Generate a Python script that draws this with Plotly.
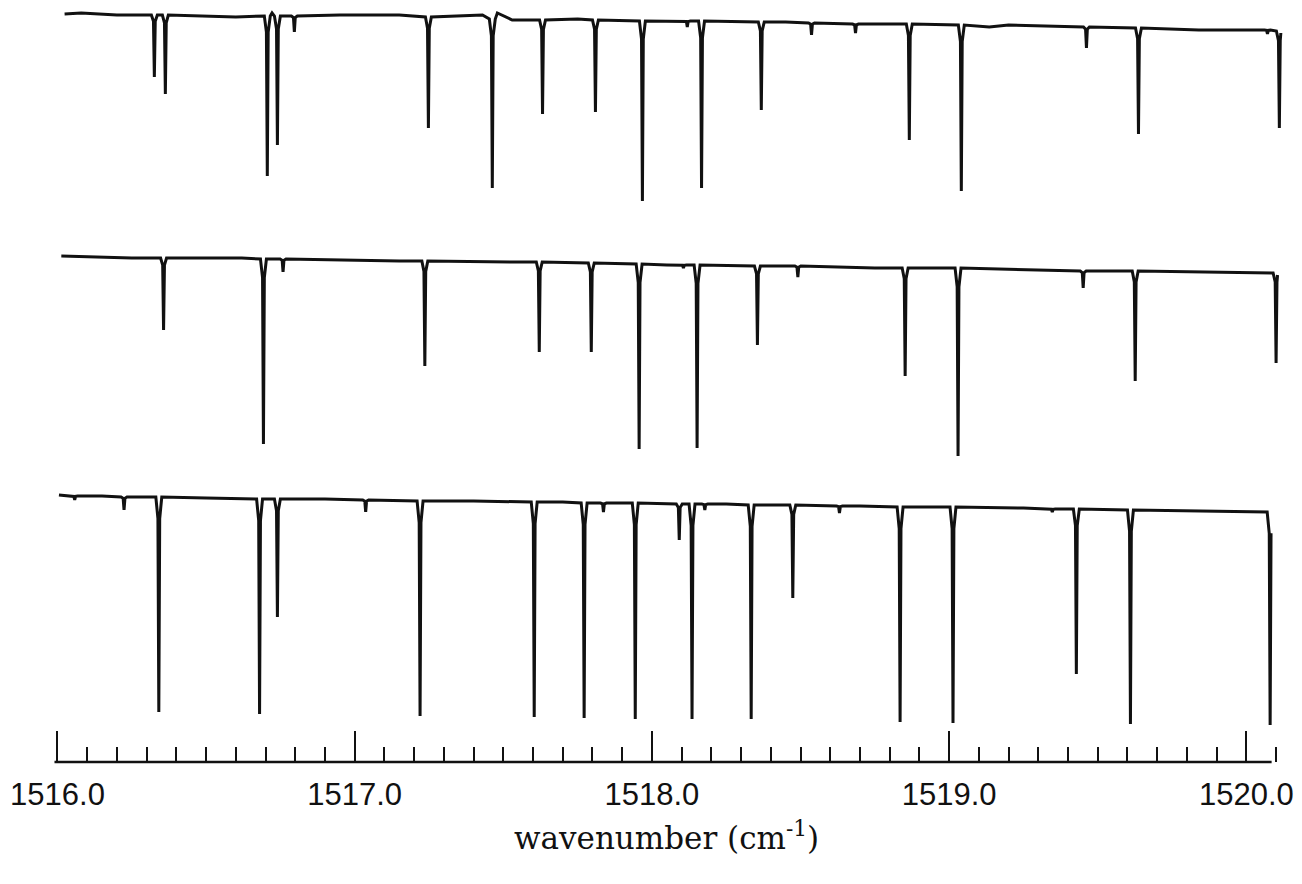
import plotly.graph_objects as go

# ---------------- data (wavenumber in cm^-1, signal in arbitrary units) -------------
# Trace 1 (top spectrum)
t1_start = (1516.024, 748)
t1_end = (1520.116, 729)
t1_knot_x = [1516.08, 1516.20, 1516.30, 1516.60, 1516.722, 1516.95, 1517.15, 1517.43,
             1517.48, 1517.53, 1517.75, 1518.05, 1518.45, 1518.75, 1519.135, 1519.20, 1519.84]
t1_knot_y = [749, 747, 747, 745, 749, 747, 747, 747,
             749, 742, 743, 741, 740, 738, 735, 737, 732]
t1_peak_x = [1516.326, 1516.363, 1516.706, 1516.740, 1516.797, 1517.248, 1517.463, 1517.632,
             1517.810, 1517.968, 1518.119, 1518.167, 1518.368, 1518.537, 1518.685, 1518.866,
             1519.041, 1519.462, 1519.637, 1520.071, 1520.111]
t1_peak_top = [747, 747, 746, 746, 746, 745, 743, 742,
               742, 741, 741, 741, 740, 739, 738, 738,
               737, 735, 734, 732, 731]
t1_peak_min = [685, 668, 586, 617, 730, 634, 574, 648,
               650, 561, 735, 574, 652, 727, 729, 622,
               571, 714, 628, 728, 634]

# Trace 2 (middle spectrum)
t2_start = (1516.013, 506)
t2_end = (1520.105, 487)
t2_knot_x = [1516.25, 1516.62, 1517.15, 1517.55, 1518.05, 1518.75, 1519.40, 1520.05]
t2_knot_y = [504, 504, 501, 500, 497, 494, 491, 489]
t2_peak_x = [1516.357, 1516.693, 1516.759, 1517.236, 1517.621, 1517.796, 1517.957, 1518.106,
             1518.152, 1518.355, 1518.491, 1518.852, 1519.030, 1519.451, 1519.626, 1520.100]
t2_peak_top = [504, 503, 503, 501, 500, 499, 498, 497,
               497, 496, 496, 494, 494, 491, 491, 489]
t2_peak_min = [432, 318, 490, 396, 410, 410, 313, 494,
               314, 417, 485, 386, 306, 474, 381, 399]

# Trace 3 (bottom spectrum)
t3_start = (1516.005, 267)
t3_end = (1520.083, 225)
t3_knot_x = [1516.15, 1516.50, 1516.90, 1517.40, 1517.70, 1518.25, 1518.70, 1519.25, 1519.85]
t3_knot_y = [266, 264, 263, 261, 260, 258, 256, 254, 251]
t3_peak_x = [1516.058, 1516.224, 1516.341, 1516.680, 1516.740, 1517.037, 1517.220, 1517.604,
             1517.772, 1517.837, 1517.944, 1518.092, 1518.135, 1518.178, 1518.334, 1518.474,
             1518.631, 1518.835, 1519.013, 1519.347, 1519.428, 1519.610, 1520.080]
t3_peak_top = [266, 265, 265, 263, 263, 262, 261, 260,
               259, 259, 259, 258, 258, 258, 257, 257,
               256, 255, 255, 253, 253, 252, 250]
t3_peak_min = [262, 252, 50, 48, 145, 250, 46, 45,
               44, 250, 43, 222, 43, 252, 43, 164,
               249, 40, 39, 250, 88, 38, 37]

tick_values = [1516.0, 1517.0, 1518.0, 1519.0, 1520.0]
x_title = "wavenumber (cm<sup>-1</sup>)"

# drawing style of the absorption dips (outer half width, shoulder half width, shoulder fraction)
OUTER_HW = 0.010
SHOULDER_HW = 0.003
SHOULDER_FRAC = 0.10


def spectrum(start, end, kx, ky, px, ptop, pmin):
    pts = [start] + list(zip(kx, ky))
    for c, t, m in zip(px, ptop, pmin):
        s = t - SHOULDER_FRAC * (t - m)
        pts += [(c - OUTER_HW, t), (c - SHOULDER_HW, s), (c, m),
                (c + SHOULDER_HW, s), (c + OUTER_HW, t)]
    pts = [p for p in pts if start[0] <= p[0] < end[0]]
    pts.sort(key=lambda p: p[0])
    pts.append(end)
    return [p[0] for p in pts], [p[1] for p in pts]


fig = go.Figure()
for args in [
    (t1_start, t1_end, t1_knot_x, t1_knot_y, t1_peak_x, t1_peak_top, t1_peak_min),
    (t2_start, t2_end, t2_knot_x, t2_knot_y, t2_peak_x, t2_peak_top, t2_peak_min),
    (t3_start, t3_end, t3_knot_x, t3_knot_y, t3_peak_x, t3_peak_top, t3_peak_min),
]:
    xs, ys = spectrum(*args)
    fig.add_trace(go.Scatter(x=xs, y=ys, mode="lines",
                             line=dict(color="#111111", width=3, shape="linear"),
                             showlegend=False, hoverinfo="skip"))

# bottom axis line (shorter than the plotted traces, as in the original)
fig.add_shape(type="line", xref="x", yref="paper", x0=1515.99, x1=1520.085, y0=0, y1=0,
              line=dict(color="#111111", width=2.6))

fig.add_annotation(text=x_title, xref="x", yref="paper", x=1518.05, y=-0.097,
                   xanchor="center", yanchor="middle", showarrow=False,
                   font=dict(family="DejaVu Serif", size=31, color="#111111"))

fig.update_layout(
    width=1302, height=884,
    margin=dict(l=53, r=17, t=0, b=122, autoexpand=False),
    paper_bgcolor="white", plot_bgcolor="white",
    font=dict(family="Liberation Sans", color="#111111"),
    xaxis=dict(range=[1515.985, 1520.13], showgrid=False, zeroline=False, showline=False,
               automargin=False,
               tickmode="array", tickvals=tick_values, tickformat=".1f",
               ticks="inside", ticklen=31, tickwidth=2, tickcolor="#111111",
               ticklabelstandoff=11,
               tickfont=dict(family="Liberation Sans", size=31, color="#111111"),
               minor=dict(dtick=0.1, tick0=1516.0, ticks="inside", ticklen=15,
                          tickwidth=2, tickcolor="#111111", showgrid=False)),
    yaxis=dict(range=[0, 762], visible=False, showgrid=False, zeroline=False),
)

fig.write_html("out.html", config={"displayModeBar": False},
               post_script="document.body.style.margin='0';document.body.style.overflow='hidden';")
